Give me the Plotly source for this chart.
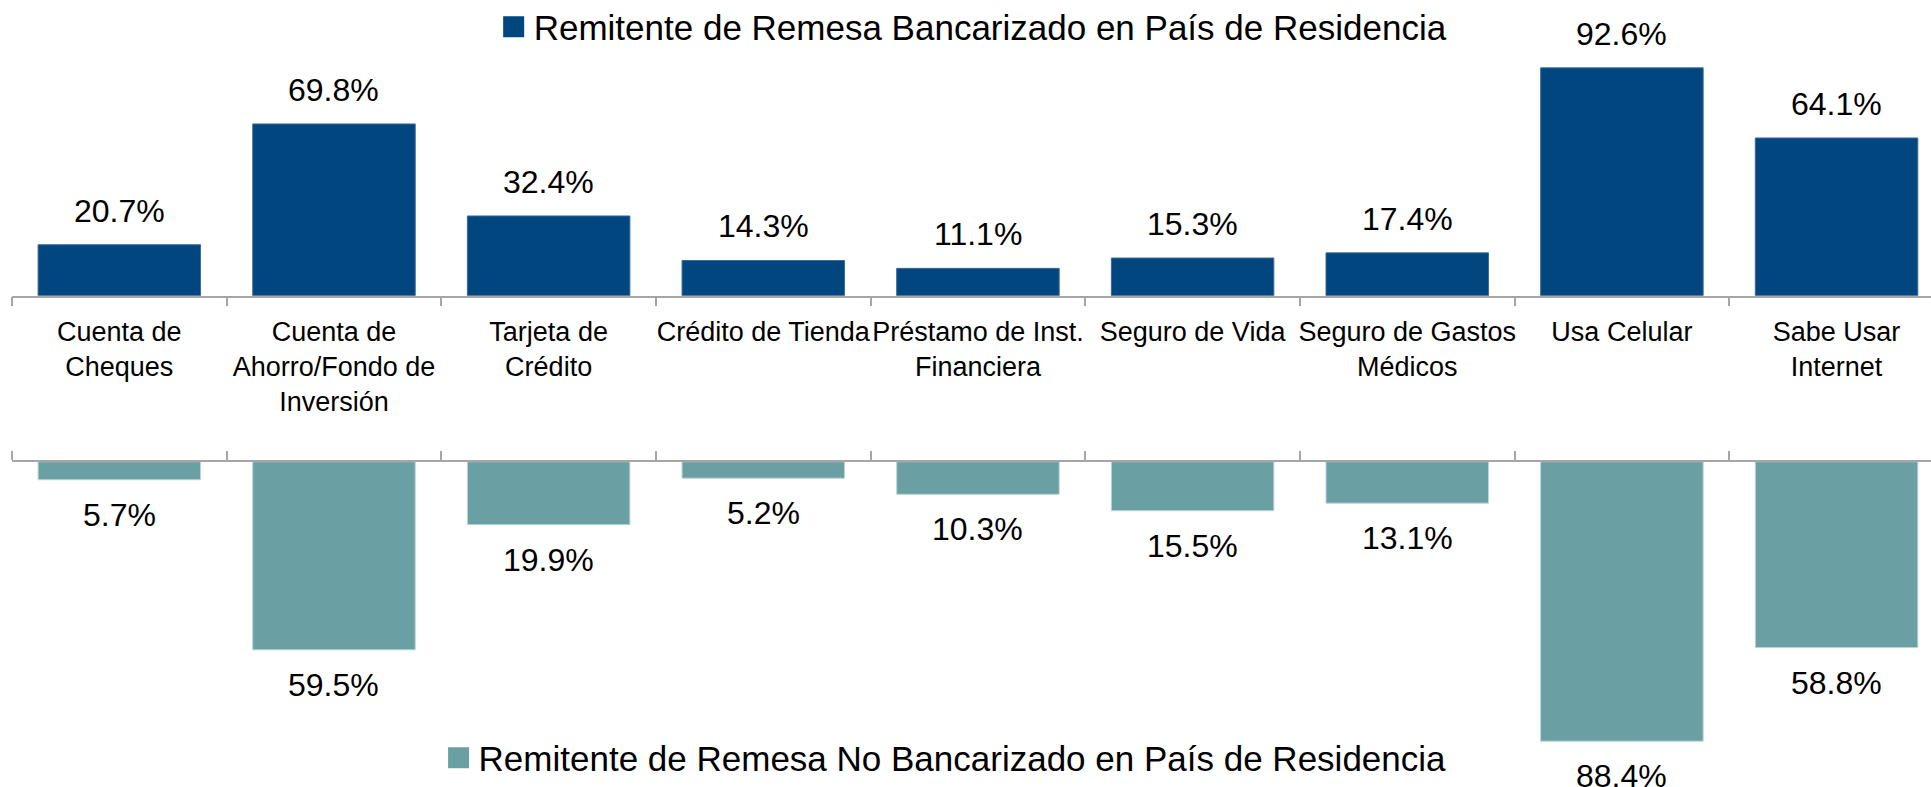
import plotly.graph_objects as go

categories = [
    "Cuenta de<br>Cheques",
    "Cuenta de<br>Ahorro/Fondo de<br>Inversión",
    "Tarjeta de<br>Crédito",
    "Crédito de Tienda",
    "Préstamo de Inst.<br>Financiera",
    "Seguro de Vida",
    "Seguro de Gastos<br>Médicos",
    "Usa Celular",
    "Sabe Usar<br>Internet",
]
bancarizado = [20.7, 69.8, 32.4, 14.3, 11.1, 15.3, 17.4, 92.6, 64.1]
no_bancarizado = [5.7, 59.5, 19.9, 5.2, 10.3, 15.5, 13.1, 88.4, 58.8]
name_top = "Remitente de Remesa Bancarizado en País de Residencia"
name_bottom = "Remitente de Remesa No Bancarizado en País de Residencia"

FONT = "Liberation Sans, Arial, sans-serif"
BLUE = "#02467F"
TEAL = "#6A9FA3"
GRAY = "#A6A6A6"

fig = go.Figure()
fig.add_trace(go.Bar(
    x=categories, y=bancarizado, name=name_top, marker_color=BLUE,
    marker_line=dict(color="#3c6b9a", width=1), showlegend=False,
    width=0.757, xaxis="x", yaxis="y",
))
fig.add_trace(go.Bar(
    x=categories, y=no_bancarizado, name=name_bottom, marker_color=TEAL,
    marker_line=dict(color="#b9d6d8", width=1), showlegend=False,
    width=0.757, xaxis="x2", yaxis="y2",
))
# legend entries (larger square symbols, as in the reference)
fig.add_trace(go.Scatter(
    x=[None], y=[None], mode="markers", name=name_top, legend="legend",
    marker=dict(symbol="square", size=16, color=BLUE, line=dict(color=BLUE, width=5)),
    xaxis="x", yaxis="y", hoverinfo="skip",
))
fig.add_trace(go.Scatter(
    x=[None], y=[None], mode="markers", name=name_bottom, legend="legend2",
    marker=dict(symbol="square", size=16, color=TEAL, line=dict(color=TEAL, width=5)),
    xaxis="x2", yaxis="y2", hoverinfo="skip",
))

annotations = []
for c, v in zip(categories, bancarizado):
    annotations.append(dict(x=c, y=v, xref="x", yref="y", text=f"{v:.1f}%",
                            showarrow=False, yanchor="middle", yshift=34,
                            font=dict(family=FONT, size=32, color="#000000")))
for c, v in zip(categories, no_bancarizado):
    annotations.append(dict(x=c, y=v, xref="x2", yref="y2", text=f"{v:.1f}%",
                            showarrow=False, yanchor="middle", yshift=-35,
                            font=dict(family=FONT, size=32, color="#000000")))

axis_common = dict(
    type="category", range=[-0.5, 8.44], showgrid=False, zeroline=False,
    showline=True, linecolor=GRAY, linewidth=1.5, automargin=False,
    ticks="outside", tickson="boundaries", ticklen=9, tickcolor=GRAY, tickwidth=1.5,
)

fig.update_layout(
    width=1931, height=787,
    margin=dict(l=12, r=0, t=0, b=0, autoexpand=False),
    paper_bgcolor="white", plot_bgcolor="white",
    font=dict(family=FONT, color="#000000"),
    bargap=0.243,
    xaxis=dict(**axis_common, anchor="y", domain=[0, 1], tickangle=0,
               ticklabelstandoff=11,
               tickfont=dict(family=FONT, size=27, color="#000000")),
    xaxis2=dict(**axis_common, anchor="y2", side="top", domain=[0, 1],
                showticklabels=False),
    yaxis=dict(domain=[0.6243, 0.9369], range=[0, 100], visible=False),
    yaxis2=dict(domain=[0, 0.4133], range=[102.9, 0], visible=False),
    legend=dict(x=0.251, y=0.9657,
                xanchor="left", yanchor="middle", bgcolor="rgba(0,0,0,0)",
                font=dict(family=FONT, size=35, color="#000000")),
    legend2=dict(x=0.2223, y=0.0368,
                 xanchor="left", yanchor="middle", bgcolor="rgba(0,0,0,0)",
                 font=dict(family=FONT, size=35, color="#000000")),
    annotations=annotations,
    showlegend=True,
)

fig.write_html("out.html", config={"displayModeBar": False},
               post_script="document.body.style.margin='0px';")
